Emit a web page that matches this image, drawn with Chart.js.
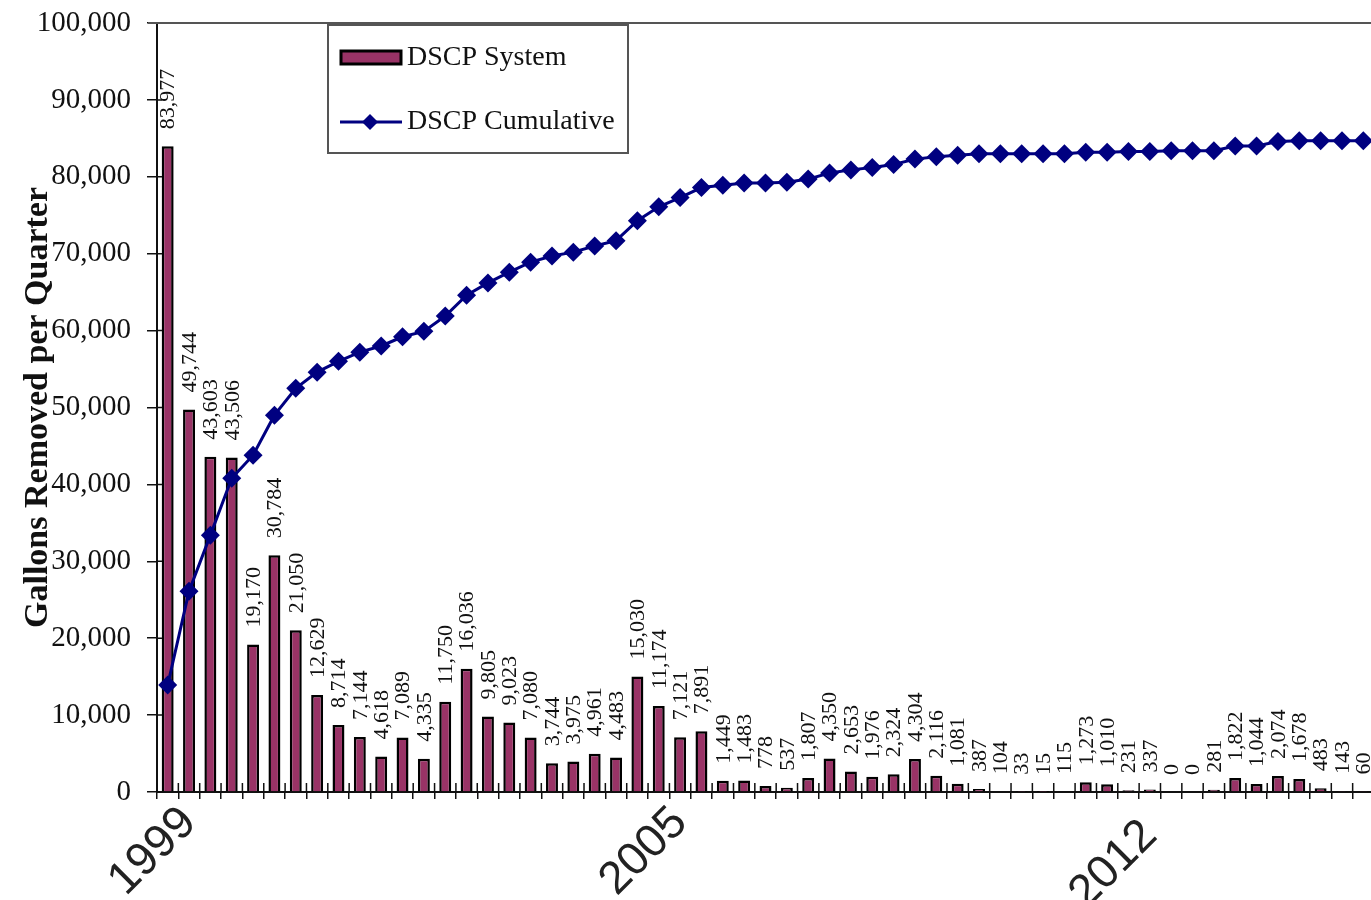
<!DOCTYPE html>
<html lang="en">
<head>
<meta charset="UTF-8">
<meta name="viewport" content="width=device-width, initial-scale=1.0">
<title>DSCP Gallons Removed</title>
<script src="https://cdn.jsdelivr.net/npm/chart.js"></script>
<style>
  html, body { margin: 0; padding: 0; background: #fff; overflow: hidden; }
  #chart-container { position: absolute; left: 0; top: 0; width: 1374px; height: 900px; }
</style>
</head>
<body>
<div id="chart-container">
  <canvas id="dscpChart"></canvas>
</div>
<script>
// one entry per quarter, only the year starts carry a label
const quarterLabels = [
  '', '1999', '', '', '', '', '', '', '', '',
  '', '', '', '', '', '', '', '', '', '',
  '', '', '', '', '2005', '', '', '', '', '',
  '', '', '', '', '', '', '', '', '', '',
  '', '', '', '', '', '', '2012', '', '', '',
  '', '', '', '', '', '', ''
];

// gallons removed each quarter (bar labels)
const systemGallons = [
  83977, 49744, 43603, 43506, 19170, 30784, 21050, 12629, 8714, 7144,
  4618, 7089, 4335, 11750, 16036, 9805, 9023, 7080, 3744, 3975,
  4961, 4483, 15030, 11174, 7121, 7891, 1449, 1483, 778, 537,
  1807, 4350, 2653, 1976, 2324, 4304, 2116, 1081, 387, 104,
  33, 15, 115, 1273, 1010, 231, 337, 0, 0, 281,
  1822, 1044, 2074, 1678, 483, 143, 60
];

// cumulative line
const cumulativeGallons = [
  13900, 26100, 33400, 40800, 43800, 49000, 52500, 54600, 56000, 57200,
  58000, 59200, 59900, 61900, 64600, 66200, 67600, 68900, 69700, 70200,
  71000, 71700, 74300, 76100, 77300, 78600, 78900, 79200, 79200, 79300,
  79700, 80500, 80900, 81200, 81600, 82300, 82600, 82800, 83000, 83000,
  83000, 83000, 83000, 83200, 83200, 83300, 83300, 83400, 83400, 83400,
  84000, 84000, 84600, 84700, 84700, 84700, 84700
];

const serif = '"Liberation Serif", "Times New Roman", serif';
// the 2012 label sits a bit lower in the original
const lowLabel = quarterLabels.indexOf('2012');

// value labels standing on top of each bar
const barValues = {
  id: 'barValues',
  afterDatasetsDraw(chart) {
    const ctx = chart.ctx;
    const idx = chart.data.datasets.findIndex(d => d.type === 'bar');
    const meta = chart.getDatasetMeta(idx);
    const values = chart.data.datasets[idx].data;
    ctx.save();
    ctx.font = '22px ' + serif;
    ctx.fillStyle = '#111';
    ctx.textAlign = 'left';
    ctx.textBaseline = 'middle';
    meta.data.forEach((bar, i) => {
      ctx.save();
      ctx.translate(bar.x + 1, bar.y - 17);
      ctx.rotate(-Math.PI / 2);
      ctx.fillText(values[i].toLocaleString('en-US'), 0, 0);
      ctx.restore();
    });
    ctx.restore();
  }
};

// tick marks that cross the axes + the top frame line
const frameTicks = {
  id: 'frameTicks',
  afterDraw(chart) {
    const { ctx, chartArea, scales: { x, y } } = chart;
    ctx.save();
    ctx.strokeStyle = '#111';
    ctx.lineWidth = 1.5;
    ctx.beginPath();
    y.ticks.forEach((t, i) => {
      const py = y.getPixelForTick(i);
      ctx.moveTo(chartArea.left, py);
      ctx.lineTo(chartArea.left + 5, py);
    });
    const step = x.getPixelForTick(1) - x.getPixelForTick(0);
    for (let i = 0; i <= x.ticks.length; i++) {
      const px = x.getPixelForTick(0) - step / 2 + i * step;
      ctx.moveTo(px, chartArea.bottom);
      ctx.lineTo(px, chartArea.bottom - 9);
    }
    ctx.stroke();
    ctx.strokeStyle = '#555';
    ctx.lineWidth = 2;
    ctx.beginPath();
    ctx.moveTo(chartArea.left - 9, chartArea.top);
    ctx.lineTo(chartArea.right, chartArea.top);
    ctx.stroke();
    ctx.restore();
  }
};

// boxed legend in the upper left of the plot
const boxLegend = {
  id: 'boxLegend',
  afterDraw(chart) {
    const ctx = chart.ctx;
    const bar = chart.data.datasets.find(d => d.type === 'bar');
    const line = chart.data.datasets.find(d => d.type === 'line');
    ctx.save();
    ctx.fillStyle = '#fff';
    ctx.fillRect(328, 25, 300, 128);
    ctx.strokeStyle = '#555';
    ctx.lineWidth = 2;
    ctx.strokeRect(328, 25, 300, 128);

    ctx.fillStyle = bar.backgroundColor;
    ctx.fillRect(341, 51, 60, 13);
    ctx.strokeStyle = bar.borderColor;
    ctx.lineWidth = 3;
    ctx.strokeRect(341, 51, 60, 13);

    ctx.strokeStyle = line.borderColor;
    ctx.lineWidth = 3;
    ctx.beginPath();
    ctx.moveTo(340, 122);
    ctx.lineTo(402, 122);
    ctx.stroke();
    ctx.fillStyle = line.backgroundColor;
    ctx.beginPath();
    ctx.moveTo(370, 114);
    ctx.lineTo(378, 122);
    ctx.lineTo(370, 130);
    ctx.lineTo(362, 122);
    ctx.closePath();
    ctx.fill();

    ctx.font = '28px ' + serif;
    ctx.fillStyle = '#111';
    ctx.textAlign = 'left';
    ctx.textBaseline = 'middle';
    ctx.fillText(bar.label, 407, 58);
    ctx.fillText(line.label, 407, 122);
    ctx.restore();
  }
};

const ctx = document.getElementById('dscpChart').getContext('2d');
const dscpChart = new Chart(ctx, {
  type: 'bar',
  data: {
    labels: quarterLabels,
    datasets: [
      {
        type: 'line',
        label: 'DSCP Cumulative',
        data: cumulativeGallons,
        borderColor: '#000080',
        backgroundColor: '#000080',
        borderWidth: 3,
        pointStyle: 'rectRot',
        pointRadius: 9.5,
        pointBorderWidth: 0,
        tension: 0,
        order: 0
      },
      {
        type: 'bar',
        label: 'DSCP System',
        data: systemGallons,
        backgroundColor: '#993366',
        borderColor: '#000000',
        borderWidth: 2.5,
        barPercentage: 0.56,
        categoryPercentage: 1,
        order: 1
      }
    ]
  },
  options: {
    responsive: true,
    maintainAspectRatio: false,
    animation: false,
    layout: { autoPadding: false, padding: { top: 23, left: 0, right: 0, bottom: 0 } },
    plugins: {
      legend: { display: false },
      tooltip: { enabled: false }
    },
    scales: {
      x: {
        grid: { display: true, drawOnChartArea: false, offset: true, tickLength: 7, color: '#111', lineWidth: 1.5 },
        border: { display: true, color: '#111', width: 2 },
        ticks: {
          autoSkip: false,
          minRotation: 45,
          maxRotation: 45,
          padding: -3,
          color: '#222',
          font: c => ({
            family: '"Liberation Sans", Arial, sans-serif',
            size: 46,
            lineHeight: c.index === lowLabel ? 2.0 : 1.2
          })
        },
        afterFit: s => { s.height = 108; s.paddingLeft = 0; s.paddingRight = 0; }
      },
      y: {
        min: 0,
        max: 100000,
        ticks: {
          stepSize: 10000,
          padding: 16,
          color: '#111',
          font: { family: serif, size: 29 },
          callback: v => v.toLocaleString('en-US')
        },
        grid: { drawOnChartArea: false, tickLength: 10, color: '#111', lineWidth: 1.5 },
        border: { color: '#111', width: 2 },
        title: {
          display: true,
          text: 'Gallons Removed per Quarter',
          color: '#111',
          font: { family: serif, size: 34, weight: 'bold' },
          padding: { top: 18, bottom: 0 }
        },
        afterFit: s => { s.width = 157; s.paddingTop = 0; s.paddingBottom = 0; }
      }
    }
  },
  plugins: [barValues, frameTicks, boxLegend]
});
</script>
</body>
</html>
